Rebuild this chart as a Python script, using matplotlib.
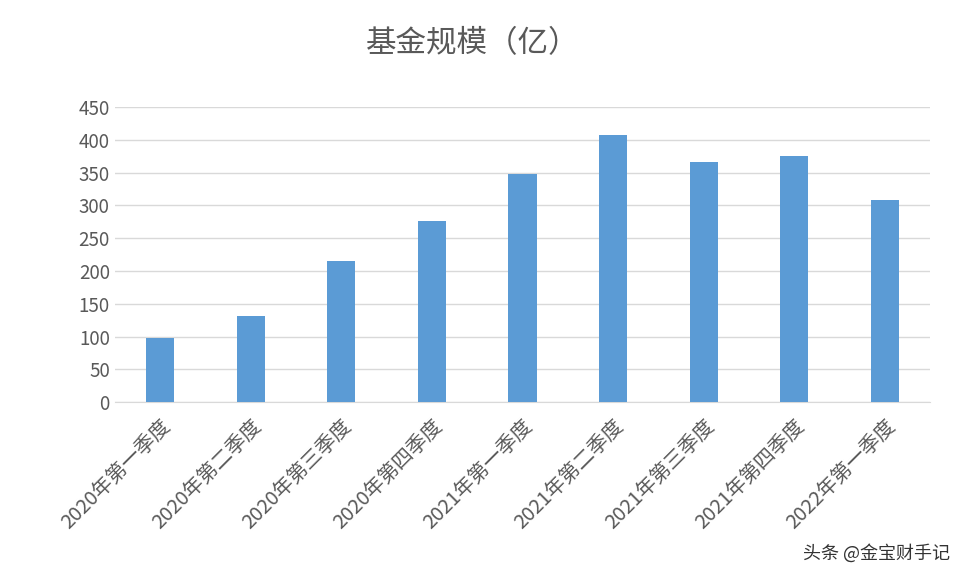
import matplotlib
matplotlib.use("Agg")
import matplotlib.pyplot as plt

plt.rcParams['font.family'] = ['Noto Sans CJK SC', 'DejaVu Sans']

quarters = ["2020年第一季度", "2020年第二季度", "2020年第三季度", "2020年第四季度",
            "2021年第一季度", "2021年第二季度", "2021年第三季度", "2021年第四季度",
            "2022年第一季度"]
scale = [98, 131, 216, 277, 348, 408, 366, 375, 308]
yticks = [0, 50, 100, 150, 200, 250, 300, 350, 400, 450]

fig = plt.figure(figsize=(9.64, 5.82), dpi=100)
ax = fig.add_axes([0.119, 0.309, 0.846, 0.507])

x = range(len(quarters))
ax.bar(x, scale, width=0.31, color="#5B9BD5", zorder=3)
ax.set_xlim(-0.5, len(quarters) - 0.5)
ax.set_ylim(0, 450)
ax.set_yticks(yticks)
ax.grid(axis="y", color="#D9D9D9", linewidth=1, zorder=0)
for s in ["top", "right", "left"]:
    ax.spines[s].set_visible(False)
ax.spines["bottom"].set_color("#D9D9D9")
ax.tick_params(length=0, colors="#595959", labelsize=13.5)
ax.set_xticks(list(x))
ax.set_xticklabels(quarters, rotation=45, ha="right", rotation_mode="anchor", fontsize=14.5)
ax.tick_params(axis="x", pad=10)

fig.text(0.49, 0.925, "基金规模（亿）", ha="center", va="center", fontsize=22, color="#595959")
fig.text(0.985, 0.05, "头条 @金宝财手记", ha="right", va="center", fontsize=13, color="#333333")

fig.savefig("out.png", dpi=100)
